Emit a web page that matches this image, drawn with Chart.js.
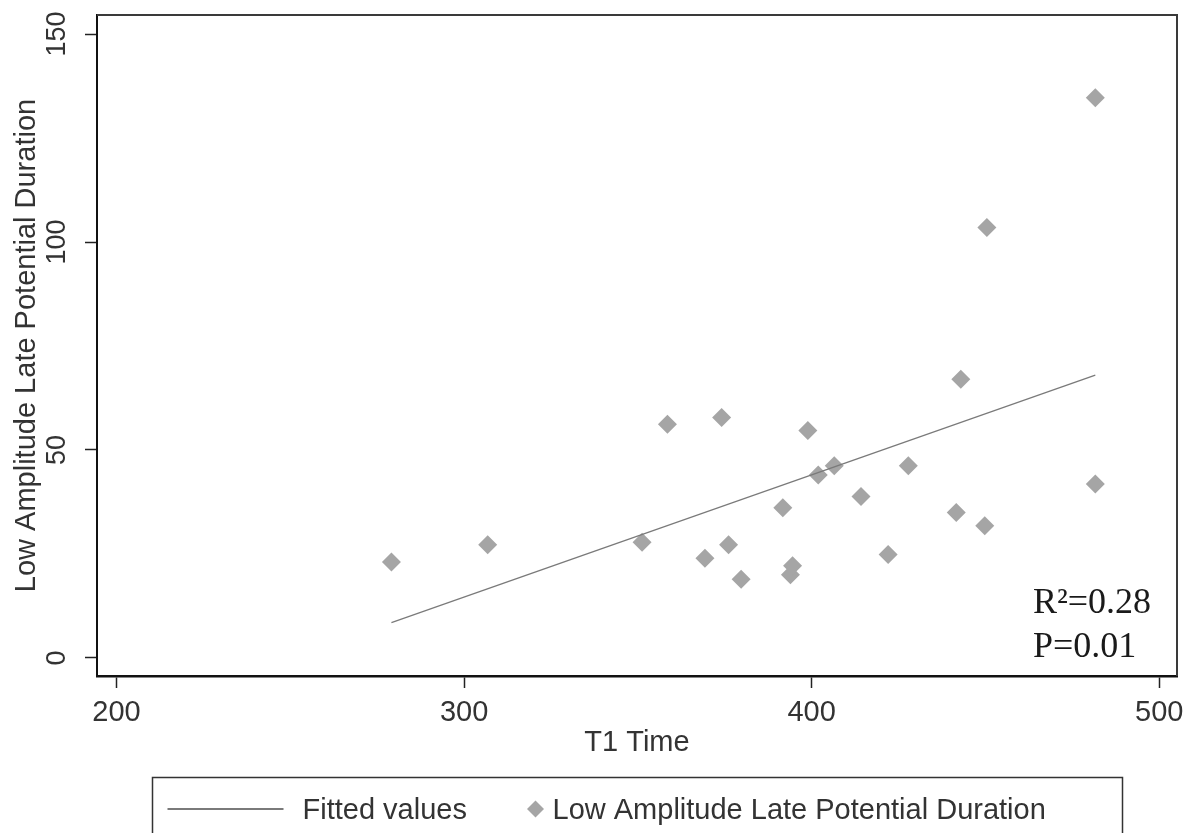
<!DOCTYPE html>
<html>
<head>
<meta charset="utf-8">
<title>Low Amplitude Late Potential Duration vs T1 Time</title>
<script src="https://cdn.jsdelivr.net/npm/chart.js@4.4.1/dist/chart.umd.min.js"></script>
<style>
  html, body { margin: 0; padding: 0; background: #fff; }
  #wrap { width: 1199px; height: 833px; }
</style>
</head>
<body>
<div id="wrap"><canvas id="myChart"></canvas></div>
<script>
// values
const t1Time = [279.1, 306.8, 351.2, 358.5, 369.3, 374.1, 376.1, 379.7, 391.7, 393.9, 394.5, 398.9,
  401.9, 406.5, 414.2, 422.0, 427.8, 441.6, 442.9, 449.8, 450.4, 481.6, 481.6];
const lasDuration = [23.1, 27.2, 27.8, 56.2, 24.0, 57.8, 27.2, 18.9, 36.1, 20.0, 22.2, 54.7,
  44.0, 46.2, 38.8, 24.9, 46.2, 35.0, 67.0, 31.8, 103.5, 41.8, 134.7];

// fitted line, its two end points
const fitX = [279.1, 481.6];
const fitY = [8.5, 68.0];

const xTicks = [200, 300, 400, 500];
const yTicks = [0, 50, 100, 150];
const statsText = ["R²=0.28", "P=0.01"];

const sansFont = "'Liberation Sans', Arial, sans-serif";
const serifFont = "'Liberation Serif', 'Times New Roman', serif";
const textColor = "#333";

// box edges, R2/P note and the framed legend under the axis
const frameAndNotes = {
  id: "frameAndNotes",
  afterDraw(chart) {
    const ctx = chart.ctx;
    const area = chart.chartArea;
    const ds = chart.data.datasets;
    ctx.save();

    ctx.strokeStyle = "#3a3a3a";
    ctx.lineWidth = 2;
    ctx.beginPath();
    ctx.moveTo(area.left, area.top);
    ctx.lineTo(area.right, area.top);
    ctx.lineTo(area.right, area.bottom);
    ctx.stroke();

    ctx.fillStyle = "#1a1a1a";
    ctx.font = "36px " + serifFont;
    ctx.textBaseline = "alphabetic";
    ctx.fillText(statsText[0], area.right - 144, area.bottom - 63);
    ctx.fillText(statsText[1], area.right - 144, area.bottom - 19);

    // legend
    const mid = (area.left + area.right) / 2;
    const boxLeft = Math.round(mid - 485) + 0.5;
    const boxTop = 777.5;
    const baseY = 819;
    const lineY = 809;
    ctx.strokeStyle = "#333";
    ctx.lineWidth = 1.5;
    ctx.strokeRect(boxLeft, boxTop, 970, 120);

    ctx.strokeStyle = ds[0].borderColor;
    ctx.lineWidth = 2;
    ctx.beginPath();
    ctx.moveTo(boxLeft + 15, lineY);
    ctx.lineTo(boxLeft + 131, lineY);
    ctx.stroke();

    ctx.fillStyle = textColor;
    ctx.font = "29px " + sansFont;
    ctx.fillText(ds[0].label, boxLeft + 150, baseY);

    const dx = boxLeft + 383;
    const r = 8.5;
    ctx.fillStyle = ds[1].backgroundColor;
    ctx.beginPath();
    ctx.moveTo(dx - r, lineY);
    ctx.lineTo(dx, lineY - r);
    ctx.lineTo(dx + r, lineY);
    ctx.lineTo(dx, lineY + r);
    ctx.closePath();
    ctx.fill();

    ctx.fillStyle = textColor;
    ctx.fillText(ds[1].label, boxLeft + 400, baseY);
    ctx.restore();
  },
};

new Chart(document.getElementById("myChart"), {
  type: "scatter",
  data: {
    datasets: [
      {
        type: "line",
        label: "Fitted values",
        data: fitX.map((x, i) => ({ x: x, y: fitY[i] })),
        borderColor: "#7a7a7a",
        borderWidth: 1.3,
        pointRadius: 0,
        fill: false,
        tension: 0,
      },
      {
        label: "Low Amplitude Late Potential Duration",
        data: t1Time.map((x, i) => ({ x: x, y: lasDuration[i] })),
        pointStyle: "rectRot",
        pointRadius: 9.5,
        pointHoverRadius: 9.5,
        backgroundColor: "#a5a5a5",
        borderColor: "#a5a5a5",
        pointBorderWidth: 0,
      },
    ],
  },
  options: {
    responsive: true,
    maintainAspectRatio: false,
    animation: false,
    layout: { padding: { left: 0, top: 15, right: 22, bottom: 0 } },
    plugins: {
      legend: { display: false },
      tooltip: { enabled: false },
    },
    scales: {
      x: {
        type: "linear",
        min: 194.4,
        max: 505.1,
        afterBuildTicks: (axis) => {
          axis.ticks = xTicks.map((v) => ({ value: v }));
        },
        afterFit: (axis) => {
          axis.height = 157;
          axis.paddingLeft = 0;
          axis.paddingRight = 0;
        },
        grid: { drawOnChartArea: false, drawTicks: true, tickLength: 12, tickColor: "#222", tickWidth: 1.5 },
        border: { display: true, color: "#111", width: 2.5 },
        ticks: { color: textColor, font: { family: sansFont, size: 29 }, padding: 8, maxRotation: 0 },
        title: {
          display: true,
          text: "T1 Time",
          color: textColor,
          font: { family: sansFont, size: 29 },
          padding: { top: 0, bottom: 73 },
        },
      },
      y: {
        type: "linear",
        min: -4.33,
        max: 154.57,
        afterBuildTicks: (axis) => {
          axis.ticks = yTicks.map((v) => ({ value: v }));
        },
        afterFit: (axis) => {
          axis.width = 97;
          axis.paddingTop = 0;
          axis.paddingBottom = 0;
        },
        grid: { drawOnChartArea: false, drawTicks: true, tickLength: 12, tickColor: "#222", tickWidth: 1.5 },
        border: { display: true, color: "#111", width: 2 },
        ticks: {
          color: textColor,
          font: { family: sansFont, size: 27 },
          padding: 5,
          minRotation: 90,
          maxRotation: 90,
          crossAlign: "center",
        },
        title: {
          display: true,
          text: "Low Amplitude Late Potential Duration",
          color: textColor,
          font: { family: sansFont, size: 29 },
          padding: { top: 10, bottom: 0 },
        },
      },
    },
  },
  plugins: [frameAndNotes],
});
</script>
</body>
</html>
